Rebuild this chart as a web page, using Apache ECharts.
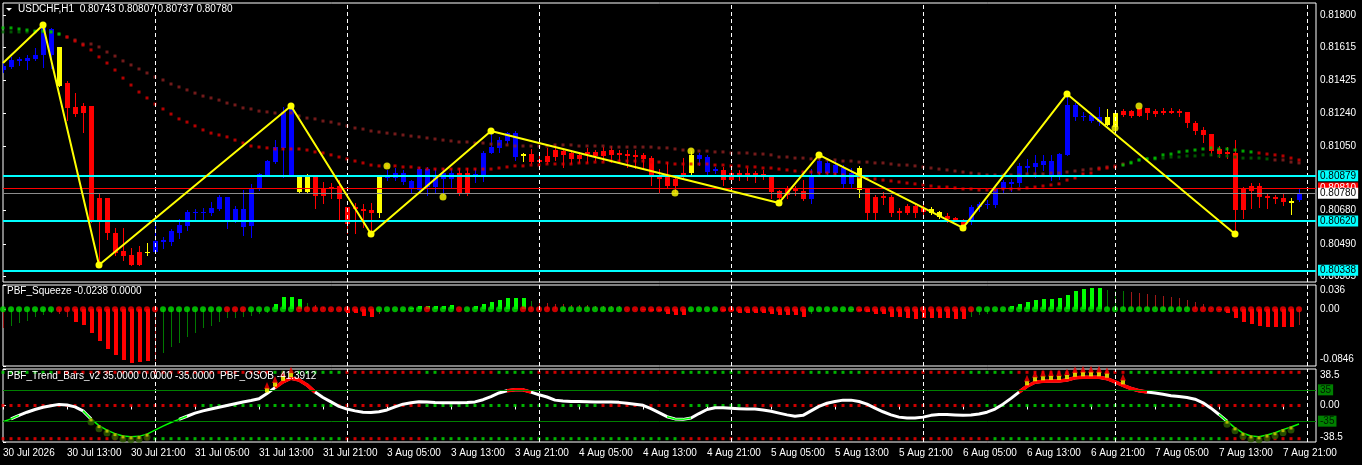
<!DOCTYPE html>
<html>
<head>
<meta charset="utf-8">
<script src="https://cdn.jsdelivr.net/npm/echarts@6.0.0/dist/echarts.min.js"></script>
<style>
html,body{margin:0;padding:0;background:#000;overflow:hidden;}
#chart{width:1362px;height:465px;}
</style>
</head>
<body>
<div id="chart"></div>
<script>
// ================= DATA =================
const symbolName = 'USDCHF,H1';
const timeLabels = ['30 Jul 2026','30 Jul 13:00','30 Jul 21:00','31 Jul 05:00','31 Jul 13:00','31 Jul 21:00',
  '3 Aug 05:00','3 Aug 13:00','3 Aug 21:00','4 Aug 05:00','4 Aug 13:00','4 Aug 21:00','5 Aug 05:00',
  '5 Aug 13:00','5 Aug 21:00','6 Aug 05:00','6 Aug 13:00','6 Aug 21:00','7 Aug 05:00','7 Aug 13:00','7 Aug 21:00'];
const timeLabelBars = [0,8,16,24,32,40,48,56,64,72,80,88,96,104,112,120,128,136,144,152,160];
const daySeparatorBars = [19,43,67,91,115,139,163];

const opens = [0.81485,0.81502,0.81537,0.81537,0.81548,0.81571,0.81571,0.81617,0.81411,0.81273,
0.81279,0.81279,0.80752,0.80752,0.80552,0.80449,0.80426,0.80443,0.80443,0.80443,
0.80500,0.80500,0.80552,0.80592,0.80666,0.80666,0.80666,0.80689,0.80626,0.80626,
0.80586,0.80592,0.80810,0.80884,0.80958,0.81039,0.80884,0.80878,0.80873,0.80873,
0.80804,0.80815,0.80821,0.80701,0.80701,0.80689,0.80684,0.80666,0.80867,0.80867,
0.80844,0.80804,0.80798,0.80815,0.80815,0.80861,0.80861,0.80895,0.80895,0.80873,
0.80884,0.81010,0.81039,0.81079,0.81124,0.81004,0.81004,0.80970,0.80993,0.81027,
0.81021,0.81010,0.80999,0.81016,0.81016,0.81021,0.81027,0.81010,0.81004,0.80999,
0.80999,0.80981,0.80873,0.80873,0.80861,0.80895,0.80895,0.80976,0.80901,0.80907,
0.80913,0.80895,0.80895,0.80895,0.80895,0.80890,0.80873,0.80792,0.80810,0.80804,
0.80792,0.80747,0.80895,0.80895,0.80895,0.80833,0.80833,0.80924,0.80804,0.80758,
0.80764,0.80758,0.80678,0.80707,0.80707,0.80695,0.80689,0.80672,0.80649,0.80638,
0.80615,0.80615,0.80701,0.80712,0.80712,0.80810,0.80833,0.80838,0.80924,0.80930,
0.80941,0.80873,0.80873,0.80999,0.81216,0.81216,0.81193,0.81187,0.81216,0.81159,
0.81250,0.81250,0.81268,0.81268,0.81250,0.81250,0.81250,0.81250,0.81245,0.81182,
0.81142,0.81119,0.81033,0.81016,0.81010,0.80804,0.80821,0.80821,0.80764,0.80758,
0.80752,0.80735,0.80743];
const highs = [0.81525,0.81560,0.81560,0.81571,0.81611,0.81743,0.81726,0.81617,0.81422,0.81353,
0.81296,0.81279,0.80781,0.80752,0.80581,0.80581,0.80466,0.80478,0.80495,0.80615,
0.80529,0.80575,0.80632,0.80684,0.80689,0.80695,0.80729,0.80770,0.80758,0.80707,
0.80798,0.80833,0.80895,0.80970,0.81084,0.81273,0.81279,0.80878,0.80890,0.80873,
0.80844,0.80838,0.80855,0.80701,0.80724,0.80718,0.80724,0.80884,0.80913,0.80924,
0.80913,0.80855,0.80930,0.80930,0.80918,0.80924,0.80918,0.80924,0.80924,0.80918,
0.81021,0.81136,0.81102,0.81130,0.81136,0.81010,0.81033,0.80999,0.81039,0.81056,
0.81027,0.81027,0.81016,0.81039,0.81027,0.81044,0.81050,0.81027,0.81027,0.81027,
0.81010,0.80993,0.80918,0.80958,0.80884,0.80981,0.81021,0.81010,0.80999,0.80930,
0.80930,0.80913,0.80913,0.80924,0.80907,0.80913,0.80884,0.80798,0.80821,0.80821,
0.80855,0.80918,0.80999,0.80981,0.80970,0.80941,0.80924,0.80936,0.80804,0.80770,
0.80787,0.80770,0.80695,0.80718,0.80724,0.80718,0.80701,0.80678,0.80666,0.80644,
0.80632,0.80712,0.80729,0.80741,0.80821,0.80855,0.80861,0.80953,0.80976,0.80999,
0.80999,0.80999,0.81010,0.81348,0.81296,0.81245,0.81239,0.81273,0.81262,0.81239,
0.81262,0.81256,0.81268,0.81268,0.81262,0.81268,0.81268,0.81262,0.81245,0.81193,
0.81159,0.81119,0.81050,0.81044,0.81084,0.80815,0.80838,0.80838,0.80781,0.80770,
0.80781,0.80752,0.80807];
const lows = [0.81474,0.81497,0.81514,0.81491,0.81542,0.81502,0.81497,0.81394,0.81199,0.81222,
0.81130,0.80615,0.80369,0.80518,0.80426,0.80397,0.80369,0.80369,0.80426,0.80443,
0.80466,0.80483,0.80523,0.80569,0.80626,0.80626,0.80655,0.80684,0.80581,0.80615,
0.80541,0.80529,0.80798,0.80878,0.80953,0.80873,0.80878,0.80787,0.80787,0.80695,
0.80724,0.80752,0.80626,0.80552,0.80552,0.80586,0.80546,0.80644,0.80855,0.80855,
0.80833,0.80787,0.80787,0.80770,0.80787,0.80770,0.80815,0.80770,0.80770,0.80844,
0.80850,0.81010,0.81016,0.81067,0.80970,0.80964,0.80953,0.80941,0.80953,0.80970,
0.80930,0.80953,0.80958,0.80958,0.80970,0.80970,0.80958,0.80953,0.80930,0.80924,
0.80924,0.80827,0.80787,0.80815,0.80787,0.80873,0.80878,0.80941,0.80884,0.80895,
0.80827,0.80838,0.80855,0.80855,0.80844,0.80861,0.80752,0.80724,0.80752,0.80770,
0.80741,0.80724,0.80884,0.80884,0.80878,0.80810,0.80815,0.80758,0.80626,0.80632,
0.80718,0.80649,0.80626,0.80661,0.80644,0.80644,0.80661,0.80638,0.80615,0.80621,
0.80581,0.80604,0.80678,0.80695,0.80701,0.80781,0.80792,0.80821,0.80895,0.80873,
0.80913,0.80855,0.80861,0.80999,0.81199,0.81199,0.81187,0.81170,0.81170,0.81142,
0.81222,0.81216,0.81222,0.81205,0.81222,0.81233,0.81239,0.81222,0.81159,0.81119,
0.81073,0.80999,0.80987,0.80981,0.80546,0.80638,0.80695,0.80701,0.80695,0.80724,
0.80712,0.80661,0.80737];
const closes = [0.81508,0.81542,0.81548,0.81554,0.81571,0.81726,0.81720,0.81394,0.81268,0.81233,
0.81239,0.80615,0.80615,0.80552,0.80437,0.80420,0.80369,0.80369,0.80437,0.80506,
0.80512,0.80563,0.80598,0.80672,0.80672,0.80672,0.80695,0.80758,0.80758,0.80689,
0.80689,0.80810,0.80890,0.80964,0.81044,0.81245,0.81273,0.80787,0.80787,0.80764,
0.80764,0.80804,0.80747,0.80604,0.80689,0.80678,0.80666,0.80873,0.80878,0.80895,
0.80895,0.80850,0.80918,0.80918,0.80873,0.80895,0.80895,0.80781,0.80781,0.80890,
0.81010,0.81044,0.81084,0.81124,0.80987,0.80993,0.80958,0.80958,0.80958,0.80987,
0.80999,0.80976,0.80976,0.81004,0.80993,0.80993,0.80999,0.80999,0.80993,0.80987,
0.80976,0.80878,0.80861,0.80821,0.80821,0.80873,0.80999,0.80999,0.80987,0.80918,
0.80855,0.80855,0.80884,0.80884,0.80873,0.80878,0.80787,0.80752,0.80770,0.80792,
0.80747,0.80884,0.80964,0.80953,0.80941,0.80924,0.80895,0.80798,0.80666,0.80666,
0.80752,0.80666,0.80666,0.80666,0.80666,0.80672,0.80666,0.80644,0.80632,0.80626,
0.80592,0.80701,0.80718,0.80718,0.80810,0.80844,0.80844,0.80936,0.80936,0.80953,
0.80964,0.80964,0.81004,0.81285,0.81285,0.81222,0.81228,0.81216,0.81170,0.81239,
0.81228,0.81222,0.81222,0.81239,0.81233,0.81239,0.81239,0.81239,0.81182,0.81136,
0.81113,0.81021,0.81004,0.81004,0.80684,0.80684,0.80792,0.80758,0.80752,0.80747,
0.80729,0.80724,0.80780];
// candle colour runs: B = blue, R = red, Y = yellow
const candleColorRuns = [['B',7],['Y',1],['R',10],['Y',1],['B',18],['Y',2],['R',8],['Y',1],['B',9],['R',2],['B',6],['Y',1],
  ['R',20],['Y',1],['B',3],['R',11],['B',6],['Y',1],['R',8],['Y',2],['R',3],['B',17],['Y',2],['R',21],['Y',1],['B',1]];

const fastLine = [0.81726,0.81726,0.81720,0.81714,0.81708,0.81708,0.81703,0.81691,0.81674,0.81651,
0.81628,0.81600,0.81560,0.81525,0.81485,0.81439,0.81399,0.81359,0.81325,0.81290,
0.81262,0.81233,0.81205,0.81187,0.81165,0.81142,0.81124,0.81113,0.81102,0.81084,
0.81067,0.81050,0.81044,0.81039,0.81033,0.81033,0.81033,0.81033,0.81027,0.81016,
0.81010,0.80999,0.80987,0.80976,0.80964,0.80953,0.80941,0.80936,0.80936,0.80936,
0.80930,0.80930,0.80924,0.80918,0.80918,0.80918,0.80918,0.80918,0.80918,0.80918,
0.80918,0.80918,0.80924,0.80930,0.80936,0.80936,0.80941,0.80941,0.80947,0.80947,
0.80947,0.80947,0.80953,0.80953,0.80958,0.80958,0.80964,0.80964,0.80964,0.80964,
0.80964,0.80958,0.80958,0.80953,0.80947,0.80947,0.80947,0.80947,0.80947,0.80941,
0.80941,0.80936,0.80936,0.80930,0.80930,0.80924,0.80924,0.80918,0.80913,0.80907,
0.80901,0.80901,0.80895,0.80895,0.80890,0.80884,0.80878,0.80873,0.80867,0.80861,
0.80855,0.80850,0.80844,0.80838,0.80833,0.80827,0.80821,0.80815,0.80815,0.80810,
0.80804,0.80804,0.80798,0.80798,0.80798,0.80804,0.80804,0.80804,0.80810,0.80815,
0.80821,0.80827,0.80833,0.80855,0.80867,0.80890,0.80895,0.80918,0.80924,0.80930,
0.80941,0.80953,0.80970,0.80976,0.80981,0.80999,0.81004,0.81016,0.81021,0.81027,
0.81033,0.81039,0.81033,0.81033,0.81027,0.81021,0.81016,0.81010,0.81004,0.80999,
0.80993,0.80981,0.80970];
const fastColorRuns = [['g',8],['r',132],['g',17],['r',6]];
const slowLine = [0.81703,0.81703,0.81703,0.81703,0.81703,0.81703,0.81703,0.81691,0.81674,0.81657,
0.81634,0.81634,0.81617,0.81588,0.81565,0.81537,0.81514,0.81491,0.81468,0.81445,
0.81428,0.81405,0.81388,0.81371,0.81353,0.81336,0.81325,0.81313,0.81296,0.81285,
0.81268,0.81262,0.81250,0.81245,0.81239,0.81239,0.81239,0.81222,0.81210,0.81205,
0.81193,0.81187,0.81176,0.81165,0.81153,0.81147,0.81136,0.81130,0.81124,0.81119,
0.81113,0.81107,0.81102,0.81096,0.81090,0.81084,0.81079,0.81073,0.81073,0.81067,
0.81067,0.81061,0.81061,0.81056,0.81050,0.81050,0.81050,0.81050,0.81050,0.81056,
0.81056,0.81056,0.81050,0.81050,0.81050,0.81050,0.81044,0.81044,0.81044,0.81044,
0.81044,0.81044,0.81039,0.81039,0.81033,0.81027,0.81027,0.81021,0.81021,0.81016,
0.81016,0.81010,0.81010,0.81010,0.81004,0.81004,0.80999,0.80987,0.80987,0.80981,
0.80981,0.80976,0.80976,0.80970,0.80970,0.80964,0.80964,0.80958,0.80958,0.80953,
0.80953,0.80947,0.80941,0.80941,0.80936,0.80930,0.80924,0.80918,0.80913,0.80907,
0.80901,0.80895,0.80890,0.80884,0.80884,0.80884,0.80884,0.80884,0.80890,0.80890,
0.80890,0.80895,0.80895,0.80901,0.80907,0.80913,0.80918,0.80924,0.80930,0.80936,
0.80947,0.80958,0.80970,0.80976,0.80976,0.80981,0.80987,0.80987,0.80993,0.80993,
0.80999,0.80999,0.80993,0.80993,0.80987,0.80981,0.80981,0.80981,0.80976,0.80970,
0.80970,0.80958,0.80953];
const slowColorRuns = [['g',8],['r',133],['g',18],['r',4]];

const zigzagBars = [0,5,12,36,46,61,97,102,120,133,154];
const zigzagPrices = [0.81525,0.81743,0.80369,0.81279,0.80546,0.81136,0.80724,0.80999,0.80581,0.81348,0.80546];
const signalBars = [48,55,84,86,139,142];
const signalPrices = [0.80936,0.80758,0.80781,0.81021,0.81153,0.81279];

const cyanLevels = [0.80879,0.80620,0.80338];
const askLevel = 0.80810;
const bidLevel = 0.80780;
const priceTicks = [0.81800,0.81615,0.81425,0.81240,0.81050,0.80680,0.80490,0.80305];
const priceRange = [0.802714,0.818687];

const squeezeValues = [-0.0278,-0.0244,-0.02,-0.017,-0.012,-0.0082,-0.005,-0.007,-0.011,-0.0185,
-0.023,-0.0357,-0.0472,-0.0591,-0.068,-0.0755,-0.0795,-0.0789,-0.0765,-0.0765,
-0.0646,-0.0557,-0.0506,-0.0417,-0.0348,-0.0283,-0.0249,-0.0185,-0.0134,-0.0134,
-0.011,-0.0095,-0.0074,-0.005,0.0079,0.0179,0.0179,0.0149,0.0098,0.0064,
0.003,0.0005,-0.0005,-0.006,-0.0064,-0.01,-0.011,-0.007,0.001,0.001,
0.001,0.002,0.0049,0.0049,0.0049,0.0049,0.0068,0.001,0.002,0.0049,
0.0083,0.0109,0.0144,0.0168,0.0168,0.0168,0.0124,0.0098,0.0094,0.0079,
0.007,0.006,0.006,0.006,0.0049,0.0045,0.0049,0.0049,0.001,0.0005,
-0.001,-0.002,-0.003,-0.0066,-0.008,-0.008,-0.002,-0.001,0.0005,0.0005,
-0.002,-0.003,-0.0051,-0.0051,-0.0051,-0.0051,-0.0066,-0.008,-0.0089,-0.0089,
-0.011,-0.0066,-0.003,-0.002,-0.001,0.0005,-0.001,-0.002,-0.004,-0.0066,
-0.0074,-0.011,-0.0119,-0.0125,-0.014,-0.013,-0.0125,-0.0125,-0.0125,-0.014,
-0.014,-0.0115,-0.008,-0.0066,-0.002,0.0005,0.0045,0.0074,0.0109,0.0134,
0.0149,0.0149,0.0168,0.0208,0.0267,0.0297,0.0317,0.0317,0.0287,0.0272,
0.0272,0.0258,0.0243,0.0223,0.0208,0.0194,0.0179,0.0168,0.0139,0.0109,
0.0074,0.002,-0.001,-0.0051,-0.0125,-0.0189,-0.0219,-0.0249,-0.0264,-0.0264,
-0.0264,-0.0264,-0.0238];
// R/G = strong bar, r/g = weak thin bar
const squeezeTypeRuns = [['r',1],['g',6],['r',2],['R',10],['r',1],['g',14],['G',4],['g',1],['r',4],['R',4],['r',1],['g',3],
  ['G',6],['g',2],['G',7],['g',1],['r',13],['R',6],['r',2],['g',2],['R',11],['g',5],['R',15],['g',5],['G',12],['g',3],['r',11],['R',10],['r',1]];
const squeezeDotRuns = [['g',7],['r',13],['g',8],['r',3],['g',6],['r',10],['g',6],['r',1],['g',3],['r',1],['g',7],['r',5],
  ['g',8],['r',8],['g',4],['r',11],['g',6],['r',15],['g',27],['r',14]];
const squeezeTicks = [0.036,0,-0.0846];
const squeezeTickLabels = ['0.036','0.00','-0.0846'];
const squeezeSignal = 0.0;

const trendLevels = [35,0,-35];
const trendRowRuns = [
  [['g',7],['r',27],['g',9],['r',10],['g',2],['r',7],['g',5],['r',18],['g',8],['r',8],['g',7],['r',13],['g',6],['r',14],['g',11],['r',11]],
  [['r',25],['g',17],['r',11],['g',22],['r',11],['g',7],['r',30],['g',25],['r',15]],
  [['r',19],['g',24],['r',10],['g',32],['r',39],['g',29],['r',10]]
];
const trendTicks = [38.5,0,-38.5];
const trendTickLabels = ['38.5','0.00','-38.5'];
const osob = [-36.5,-30,-22,-15,-9,-4,-0.5,2.5,1,-3,
-12,-30,-45,-55,-63,-68,-70,-69,-64,-55,
-46,-38,-31,-24,-17,-12,-8,-4,0,4,
8,11,15,27,40,53,61,57,46,30,
18,8,-2,-8,-12,-15,-15.5,-14,-10,-3,
3,6,8.6,8,6.5,6.3,6.3,6.3,6.5,8,
13,20,28,33,35,35,30,24,19,12,
10,9,9,8.5,8,8,8,7,5,3,
0.5,-7,-16,-25,-30,-31,-28,-18,-9,-5,
-5,-6,-7,-8,-8,-10,-13,-17,-21,-24,
-22,-12,-2,5,9,12,12,9,3,-6,
-14,-21,-26,-28,-28,-26,-22,-20,-20,-21,
-22,-21,-19,-15,-8,3,16,30,43,52,
54,55,55,57,62,63,63,63,60,53,
45,38,33,30,28,25,22,20,18,14,
6,-6,-20,-35,-50,-62,-68,-70,-66,-61,
-54,-48,-41.3];
const osobTitleValue = -41.3912;
const osobLevels = [35,-35];
const osobRange = 81.6;
const overboughtMarkBars = [33,34,35,36,128,129,130,131,132,133,134,135,136,137,138,140];
const oversoldMarkBars = [11,12,13,14,15,16,17,18,153,154,155,156,157,158,159,160,161];

// ================= RENDER =================
const runs = list => list.map(r => r[0].repeat(r[1])).join('');
const candleColors = runs(candleColorRuns);
const fastColors = runs(fastColorRuns);
const slowColors = runs(slowColorRuns);
const squeezeTypes = runs(squeezeTypeRuns);
const squeezeDots = runs(squeezeDotRuns);
const trendRows = trendRowRuns.map(runs);

const FONT = 'Liberation Sans, Arial, sans-serif';
const X_MAX = 164.125;
const CANDLE_COLOR = {B:'#0000ff', R:'#ff0000', Y:'#ffff00'};
const SQ_COLOR = {R:'#ff0000', G:'#00ff00', r:'#a01818', g:'#007800'};
const f5 = v => v.toFixed(5);

const candleData = opens.map((o, i) => [i, o, closes[i], lows[i], highs[i]]);

function renderCandle(params, api) {
  const i = api.value(0);
  const pO = api.coord([i, api.value(1)]);
  const pC = api.coord([i, api.value(2)]);
  const pL = api.coord([i, api.value(3)]);
  const pH = api.coord([i, api.value(4)]);
  const cx = Math.round(pO[0]);
  const col = CANDLE_COLOR[candleColors[params.dataIndex]];
  const top = Math.round(Math.min(pO[1], pC[1]));
  const bot = Math.round(Math.max(pO[1], pC[1]));
  const cs = params.coordSys;
  const body = echarts.graphic.clipRectByRect(
    {x: cx - 2, y: top, width: 5, height: Math.max(1, bot - top)},
    {x: cs.x, y: cs.y, width: cs.width, height: cs.height});
  const children = [{type: 'line', shape: {x1: cx + 0.5, y1: Math.round(pH[1]), x2: cx + 0.5, y2: Math.round(pL[1]) + 1},
    style: {stroke: col, lineWidth: 1}}];
  if (body) children.push({type: 'rect', shape: body, style: {fill: col}});
  return {type: 'group', children};
}

function renderSqueeze(params, api) {
  const i = api.value(0), v = api.value(1);
  const t = squeezeTypes[params.dataIndex];
  const p0 = api.coord([i, 0]), p1 = api.coord([i, v]);
  const cx = Math.round(p0[0]);
  const thick = (t === 'R' || t === 'G');
  const y0 = Math.round(p0[1]), y1 = Math.round(p1[1]);
  return {type: 'rect', shape: {x: thick ? cx - 1 : cx, y: Math.min(y0, y1), width: thick ? 4 : 1,
    height: Math.max(1, Math.abs(y1 - y0))}, style: {fill: SQ_COLOR[t]}};
}

const sepMarkLine = {
  silent: true, symbol: ['none', 'none'], label: {show: false}, precision: 3,
  lineStyle: {color: '#ffffff', type: [4, 3], width: 1},
  data: daySeparatorBars.map(b => ({xAxis: b}))
};

function levelLabel(bg, fg) {
  return {show: true, position: 'end', distance: 2, formatter: p => f5(p.value), backgroundColor: bg, color: fg,
    fontSize: 10, fontFamily: FONT, padding: [1, 2, 0, 2]};
}

const maskKeep = (arr, cond) => arr.map((v, i) =>
  (cond(v) || (i > 0 && cond(arr[i - 1])) || (i < arr.length - 1 && cond(arr[i + 1]))) ? [i, v] : [i, null]);

const option = {
  backgroundColor: '#000000',
  animation: false,
  textStyle: {fontFamily: FONT},
  title: [
    {text: symbolName + '  ' + [opens[162], highs[162], lows[162], closes[162]].map(f5).join(' '),
      left: 18, top: 4, padding: 0, textStyle: {color: '#ffffff', fontSize: 10, fontWeight: 'normal', fontFamily: FONT}},
    {text: 'PBF_Squeeze ' + squeezeValues[162].toFixed(4) + ' ' + squeezeSignal.toFixed(4),
      left: 7, top: 286, padding: 0, textStyle: {color: '#ffffff', fontSize: 10, fontWeight: 'normal', fontFamily: FONT}},
    {text: 'PBF_Trend_Bars_v2 ' + trendLevels.map(v => v.toFixed(4)).join(' ') + '  PBF_OSOB ' + osobTitleValue.toFixed(4),
      left: 7, top: 371, padding: 0, textStyle: {color: '#ffffff', fontSize: 10, fontWeight: 'normal', fontFamily: FONT}}
  ],
  graphic: [{type: 'polygon', shape: {points: [[6, 8], [12, 8], [9, 11]]}, style: {fill: '#ffffff'}}],
  grid: [
    {left: 3, right: 46, top: 3, height: 279},
    {left: 3, right: 46, top: 285, height: 81},
    {left: 3, right: 46, top: 369, height: 73}
  ].map(g => Object.assign(g, {show: true, borderColor: '#ffffff', borderWidth: 1, backgroundColor: '#000000'})),
  xAxis: [0, 1, 2].map(k => ({
    type: 'value', gridIndex: k, min: 0, max: X_MAX, show: k === 2,
    axisLine: {show: false}, splitLine: {show: false},
    axisTick: k === 2 ? {show: true, customValues: timeLabelBars, length: 4, lineStyle: {color: '#ffffff'}} : {show: false},
    axisLabel: k === 2 ? {show: true, customValues: timeLabelBars, align: 'left', margin: 6,
      formatter: v => timeLabels[timeLabelBars.indexOf(Math.round(v))], color: '#ffffff', fontSize: 10, fontFamily: FONT} : {show: false}
  })),
  yAxis: [
    {type: 'value', gridIndex: 0, position: 'right', min: priceRange[0], max: priceRange[1],
      axisLine: {show: false}, splitLine: {show: false},
      axisTick: {show: true, customValues: priceTicks, length: 3, lineStyle: {color: '#ffffff'}},
      axisLabel: {customValues: priceTicks, formatter: v => f5(v), color: '#ffffff', fontSize: 10, fontFamily: FONT, margin: 4}},
    {type: 'value', gridIndex: 1, position: 'right', min: squeezeTicks[2], max: squeezeTicks[0],
      axisLine: {show: false}, splitLine: {show: false},
      axisTick: {show: true, customValues: squeezeTicks, length: 3, lineStyle: {color: '#ffffff'}},
      axisLabel: {customValues: squeezeTicks, margin: 4, color: '#ffffff', fontSize: 10, fontFamily: FONT,
        formatter: v => {
          const k = squeezeTicks.indexOf(v); const s = squeezeTickLabels[k];
          return k === 0 ? '{t|' + s + '}' : k === 2 ? '{b|' + s + '}' : s;
        },
        rich: {t: {padding: [11, 0, 0, 0], color: '#ffffff', fontSize: 10, fontFamily: FONT},
               b: {padding: [0, 0, 13, 0], color: '#ffffff', fontSize: 10, fontFamily: FONT}}}},
    {type: 'value', gridIndex: 2, position: 'right', min: trendTicks[2], max: trendTicks[0],
      axisLine: {show: false}, splitLine: {show: false},
      axisTick: {show: true, customValues: trendTicks, length: 3, lineStyle: {color: '#ffffff'}},
      axisLabel: {customValues: trendTicks, margin: 4, color: '#ffffff', fontSize: 10, fontFamily: FONT,
        formatter: v => {
          const k = trendTicks.indexOf(v); const s = trendTickLabels[k];
          return k === 0 ? '{t|' + s + '}' : k === 2 ? '{b|' + s + '}' : s;
        },
        rich: {t: {padding: [13, 0, 0, 0], color: '#ffffff', fontSize: 10, fontFamily: FONT},
               b: {padding: [0, 0, 10, 0], color: '#ffffff', fontSize: 10, fontFamily: FONT}}}},
    {type: 'value', gridIndex: 2, min: -osobRange, max: osobRange, show: false, splitLine: {show: false}}
  ],
  series: [
    // ---- price panel ----
    {type: 'line', xAxisIndex: 0, yAxisIndex: 0, data: [], z: 1, markLine: sepMarkLine},
    {type: 'custom', name: 'candles', xAxisIndex: 0, yAxisIndex: 0, z: 2, clip: true,
      renderItem: renderCandle, encode: {x: 0, y: [1, 2, 3, 4]}, data: candleData},
    {type: 'scatter', name: 'slow', xAxisIndex: 0, yAxisIndex: 0, z: 3, symbol: 'rect', symbolSize: 3,
      data: slowLine.map((v, i) => ({value: [i, v], itemStyle: {color: slowColors[i] === 'g' ? '#006a00' : '#8e2020'}}))},
    {type: 'scatter', name: 'fast', xAxisIndex: 0, yAxisIndex: 0, z: 3, symbol: 'rect', symbolSize: 3,
      data: fastLine.map((v, i) => ({value: [i, v], itemStyle: {color: fastColors[i] === 'g' ? '#00d000' : '#e00000'}}))},
    {type: 'line', xAxisIndex: 0, yAxisIndex: 0, data: [], z: 4,
      markLine: {silent: true, symbol: ['none', 'none'], precision: 5, data: [
        ...cyanLevels.map(v => ({yAxis: v, lineStyle: {color: '#00ffff', width: 2, type: 'solid'}, label: levelLabel('#00ffff', '#000000')})),
        {yAxis: askLevel, lineStyle: {color: '#ff0000', width: 1, type: 'solid'}, label: levelLabel('#ff0000', '#ffffff')},
        {yAxis: bidLevel, lineStyle: {color: '#8c8c8c', width: 1, type: 'solid'}, label: levelLabel('#ffffff', '#000000')}
      ]}},
    {type: 'line', name: 'zigzag', xAxisIndex: 0, yAxisIndex: 0, z: 5,
      data: zigzagBars.map((b, k) => [b, zigzagPrices[k]]),
      lineStyle: {color: '#ffff00', width: 2}, itemStyle: {color: '#ffff00'},
      symbol: 'circle', symbolSize: (v, p) => p.dataIndex === 0 ? 0 : 7, showAllSymbol: true},
    {type: 'scatter', name: 'signals', xAxisIndex: 0, yAxisIndex: 0, z: 6, symbol: 'circle', symbolSize: 7,
      itemStyle: {color: '#ffff00'}, data: signalBars.map((b, k) => [b, signalPrices[k]])},
    // ---- squeeze panel ----
    {type: 'line', xAxisIndex: 1, yAxisIndex: 1, data: [], z: 1, markLine: sepMarkLine},
    {type: 'custom', name: 'squeeze', xAxisIndex: 1, yAxisIndex: 1, z: 2, renderItem: renderSqueeze,
      encode: {x: 0, y: 1}, data: squeezeValues.map((v, i) => [i, v])},
    {type: 'scatter', name: 'squeezeDots', xAxisIndex: 1, yAxisIndex: 1, z: 3, symbol: 'circle', symbolSize: 6,
      data: squeezeValues.map((v, i) => ({value: [i, 0], itemStyle: {color: squeezeDots[i] === 'g' ? '#00e000' : '#ff0000'}}))},
    // ---- trend / OSOB panel ----
    {type: 'line', xAxisIndex: 2, yAxisIndex: 2, data: [], z: 1, markLine: sepMarkLine},
    {type: 'scatter', name: 'trendRows', xAxisIndex: 2, yAxisIndex: 2, z: 2, symbol: 'rect', symbolSize: 3,
      data: trendRows.flatMap((row, r) => osob.map((_, i) => ({value: [i, trendLevels[r]],
        itemStyle: {color: row[i] === 'g' ? '#00e000' : '#ff0000'}})))},
    {type: 'line', name: 'osobWhite', xAxisIndex: 2, yAxisIndex: 3, z: 3, symbol: 'none',
      data: maskKeep(osob, v => v > -30), lineStyle: {color: '#ffffff', width: 3},
      markLine: {silent: true, symbol: ['none', 'none'], precision: 2, data: osobLevels.map(v => ({yAxis: v,
        lineStyle: {color: '#008000', width: 1, type: 'solid'},
        label: {show: true, position: 'end', distance: 2, formatter: String(v), backgroundColor: '#008000', color: '#001a00',
          fontSize: 10, fontFamily: FONT, padding: [1, 2, 0, 2]}}))}},
    {type: 'line', name: 'osobGreen', xAxisIndex: 2, yAxisIndex: 3, z: 4, symbol: 'none',
      data: maskKeep(osob, v => v <= -30), lineStyle: {color: '#00ff00', width: 1.5}},
    {type: 'line', name: 'osobRed', xAxisIndex: 2, yAxisIndex: 3, z: 4, symbol: 'none',
      data: osob.map((v, i) => [i, v >= 30 ? v : null]), lineStyle: {color: '#ff0000', width: 3.5}},
    {type: 'scatter', xAxisIndex: 2, yAxisIndex: 3, z: 5, symbol: 'triangle', symbolSize: [6, 7], symbolOffset: [0, -8],
      itemStyle: {color: '#ff0000'}, data: overboughtMarkBars.map(b => [b, osob[b]])},
    {type: 'scatter', xAxisIndex: 2, yAxisIndex: 3, z: 6, symbol: 'rect', symbolSize: 4, symbolOffset: [0, -3],
      itemStyle: {color: '#ffff00'}, data: overboughtMarkBars.map(b => [b, osob[b]])},
    {type: 'scatter', xAxisIndex: 2, yAxisIndex: 3, z: 5, symbol: 'circle', symbolSize: 7, symbolOffset: [0, 3],
      itemStyle: {color: '#2e5e00'}, data: oversoldMarkBars.map(b => [b, osob[b]])},
    {type: 'scatter', xAxisIndex: 2, yAxisIndex: 3, z: 6, symbol: 'rect', symbolSize: 3, symbolOffset: [0, 1],
      itemStyle: {color: '#d0d000'}, data: oversoldMarkBars.map(b => [b, osob[b]])}
  ]
};

const chart = echarts.init(document.getElementById('chart'), null, {renderer: 'canvas'});
chart.setOption(option);
</script>
</body>
</html>
